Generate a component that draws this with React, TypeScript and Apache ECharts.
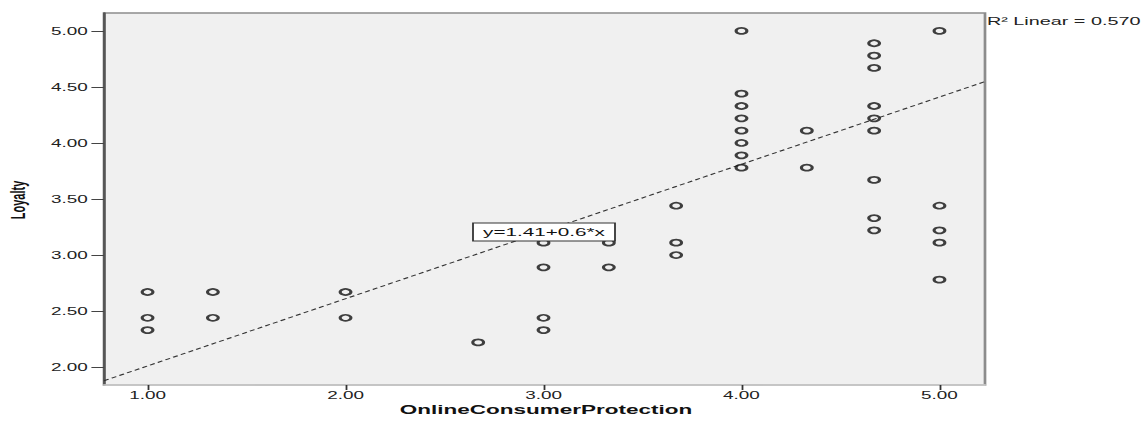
import React, { useEffect, useRef } from "react";
import * as echarts from "echarts";

// ---- data ----
const protection = [
  1, 1, 1,
  1.33, 1.33,
  2, 2,
  2.67,
  3, 3, 3, 3,
  3.33, 3.33,
  3.67, 3.67, 3.67,
  4, 4, 4, 4, 4, 4, 4, 4,
  4.33, 4.33,
  4.67, 4.67, 4.67, 4.67, 4.67, 4.67, 4.67, 4.67, 4.67,
  5, 5, 5, 5, 5,
];
const loyalty = [
  2.67, 2.44, 2.33,
  2.67, 2.44,
  2.67, 2.44,
  2.22,
  3.11, 2.89, 2.44, 2.33,
  3.11, 2.89,
  3.44, 3.11, 3.0,
  5.0, 4.44, 4.33, 4.22, 4.11, 4.0, 3.89, 3.78,
  4.11, 3.78,
  4.89, 4.78, 4.67, 4.33, 4.22, 4.11, 3.67, 3.33, 3.22,
  5.0, 3.44, 3.22, 3.11, 2.78,
];
const xTicks = [1, 2, 3, 4, 5];
const yTicks = [2, 2.5, 3, 3.5, 4, 4.5, 5];
const xRange = [0.78, 5.23];
const yRange = [1.84, 5.16];
const intercept = 1.41;
const slope = 0.6;
const rSquared = "0.570";
const equationLabel = "y=1.41+0.6*x";
const xTitle = "OnlineConsumerProtection";
const yTitle = "Loyalty";

// the reference is a horizontally stretched picture
const STRETCH = 1.8;
const W = 1148;
const H = 423;
const IW = Math.round(W / STRETCH);
const sx = (px: number) => px / STRETCH; // screen x -> internal x

const FONT = "'Liberation Sans', Arial, sans-serif";

export default function App() {
  const ref = useRef<HTMLDivElement>(null);

  useEffect(() => {
    if (!ref.current) return;
    const chart = echarts.init(ref.current, undefined, { renderer: "svg" });
    const points = protection.map((x, i) => [x, loyalty[i]]);
    const fitLine = xRange.map((x) => [x, intercept + slope * x]);

    const gridLeft = sx(104);
    const gridRight = IW - sx(985);

    chart.setOption({
      animation: false,
      backgroundColor: "#ffffff",
      grid: {
        left: gridLeft,
        right: gridRight,
        top: 13,
        bottom: 38,
        show: true,
        backgroundColor: "#f0f0f0",
        borderColor: "#8c8c8c",
        borderWidth: 1.5,
      },
      xAxis: {
        type: "value",
        min: xRange[0],
        max: xRange[1],
        splitLine: { show: false },
        axisLine: { show: true, onZero: false, lineStyle: { color: "#cfcfcf", width: 1.5 } },
        axisTick: {
          show: true,
          customValues: xTicks,
          length: 5,
          lineStyle: { color: "#333", width: 1 },
        },
        axisLabel: {
          customValues: xTicks,
          formatter: (v: number) => v.toFixed(2),
          fontFamily: FONT,
          fontSize: 10.5,
          color: "#222",
          margin: 5,
        },
      },
      yAxis: {
        type: "value",
        min: yRange[0],
        max: yRange[1],
        splitLine: { show: false },
        axisLine: { show: true, onZero: false, lineStyle: { color: "#555", width: 1.5 } },
        axisTick: {
          show: true,
          customValues: yTicks,
          length: 7,
          lineStyle: { color: "#444", width: 1 },
        },
        axisLabel: {
          customValues: yTicks,
          formatter: (v: number) => v.toFixed(2),
          fontFamily: FONT,
          fontSize: 10.5,
          color: "#222",
          margin: 9,
        },
      },
      series: [
        {
          type: "line",
          data: fitLine,
          symbol: "none",
          lineStyle: { color: "#333", width: 1, type: [3, 2] },
          z: 2,
        },
        {
          type: "scatter",
          data: points,
          symbol: "circle",
          symbolSize: 6,
          itemStyle: { color: "rgba(0,0,0,0)", borderColor: "#111", borderWidth: 1.7 },
          z: 3,
        },
      ],
      graphic: [
        {
          type: "text",
          x: sx(18),
          y: 200,
          rotation: Math.PI / 2,
          style: {
            text: yTitle,
            fontFamily: FONT,
            fontWeight: "bold",
            fontSize: 11,
            fill: "#111",
            align: "center",
            verticalAlign: "middle",
          },
        },
        {
          type: "text",
          x: sx(546),
          y: 410,
          style: {
            text: xTitle,
            fontFamily: FONT,
            fontWeight: "bold",
            fontSize: 12.5,
            fill: "#111",
            align: "center",
            verticalAlign: "middle",
          },
        },
        {
          type: "text",
          x: sx(987),
          y: 21,
          style: {
            text: "R\u00b2 Linear = " + rSquared,
            fontFamily: FONT,
            fontSize: 11,
            fill: "#222",
            align: "left",
            verticalAlign: "middle",
          },
        },
        {
          type: "rect",
          z: 100,
          shape: { x: sx(473), y: 223, width: sx(615) - sx(473), height: 18 },
          style: { fill: "#ffffff", stroke: "#333", lineWidth: 1 },
        },
        {
          type: "text",
          z: 101,
          x: sx(544),
          y: 232,
          style: {
            text: equationLabel,
            fontFamily: FONT,
            fontSize: 11.5,
            fill: "#111",
            align: "center",
            verticalAlign: "middle",
          },
        },
      ],
    });
    return () => chart.dispose();
  }, []);

  return (
    <div
      style={{
        position: "fixed",
        left: 0,
        top: 0,
        width: W,
        height: H,
        overflow: "hidden",
        background: "#fff",
      }}
    >
      <div
        ref={ref}
        style={{
          width: IW,
          height: H,
          transform: `scaleX(${STRETCH})`,
          transformOrigin: "0 0",
        }}
      />
    </div>
  );
}
